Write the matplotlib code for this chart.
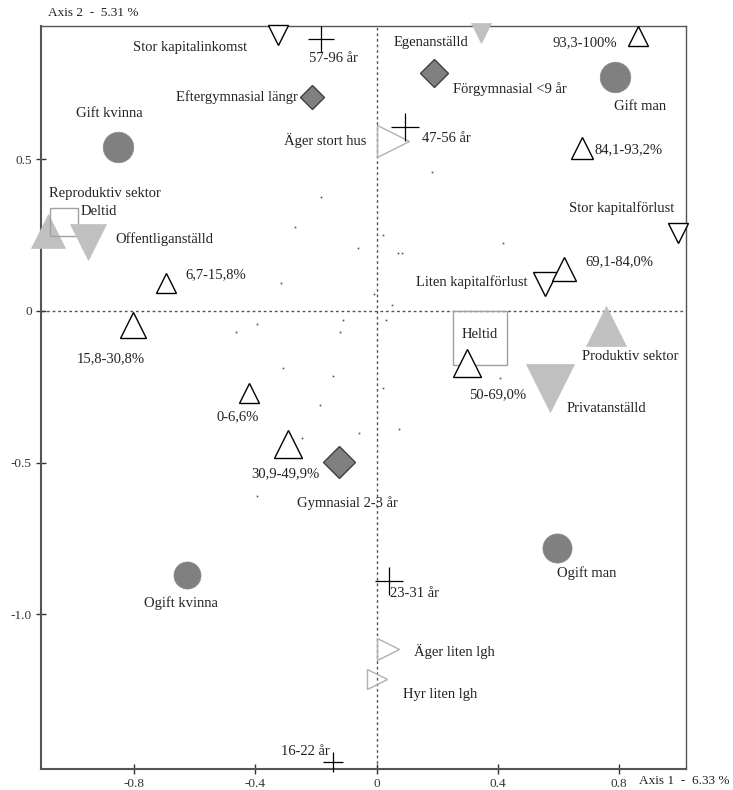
import matplotlib.pyplot as plt

plt.rcParams['font.family'] = ['Liberation Serif', 'DejaVu Serif']

# kategorier och koordinater (axel 1, axel 2)
labels = ['Stor kapitalinkomst', '57-96 år', 'Egenanställd', '93,3-100%',
          'Förgymnasial <9 år', 'Gift man', 'Eftergymnasial längr', 'Gift kvinna',
          'Äger stort hus', '47-56 år', '84,1-93,2%', 'Stor kapitalförlust',
          'Reproduktiv sektor', 'Deltid', 'Offentliganställd', '6,7-15,8%',
          '15,8-30,8%', '0-6,6%', '30,9-49,9%', 'Gymnasial 2-3 år',
          'Liten kapitalförlust', '69,1-84,0%', 'Heltid', '50-69,0%',
          'Produktiv sektor', 'Privatanställd', 'Ogift man', 'Ogift kvinna',
          '23-31 år', 'Äger liten lgh', 'Hyr liten lgh', '16-22 år']
x = [-0.325, -0.184, 0.345, 0.863, 0.190, 0.787, -0.213, -0.853,
     0.054, 0.094, 0.678, 0.995, -1.084, -1.031, -0.952, -0.695,
     -0.804, -0.421, -0.292, -0.124, 0.556, 0.619, 0.342, 0.299,
     0.757, 0.573, 0.596, -0.625, 0.041, 0.038, 0.000, -0.144]
y = [0.910, 0.898, 0.917, 0.906, 0.785, 0.772, 0.706, 0.541,
     0.561, 0.607, 0.538, 0.257, 0.264, 0.294, 0.228, 0.092,
     -0.046, -0.271, -0.439, -0.498, 0.088, 0.139, -0.089, -0.172,
     -0.049, -0.254, -0.782, -0.871, -0.891, -1.116, -1.215, -1.488]
group = ['kapital', 'alder', 'sektor_v', 'inkomst', 'utbildning', 'civil', 'utbildning', 'civil',
         'boende', 'alder', 'inkomst', 'kapital', 'sektor_up', 'tid', 'sektor_v', 'inkomst',
         'inkomst', 'inkomst', 'inkomst', 'utbildning', 'kapital', 'inkomst', 'tid', 'inkomst',
         'sektor_up', 'sektor_v', 'civil', 'civil', 'alder', 'boende', 'boende', 'alder']

# individer (små punkter)
dots_x = [0.183, -0.183, -0.269, -0.061, 0.021, 0.417, 0.071, 0.084, -0.315, -0.008,
          0.051, 0.031, -0.394, -0.111, -0.464, -0.120, -0.309, -0.144, -0.187, -0.246,
          -0.058, 0.408, 0.021, 0.074, -0.394]
dots_y = [0.459, 0.376, 0.277, 0.208, 0.251, 0.224, 0.191, 0.191, 0.092, 0.056,
          0.020, -0.030, -0.043, -0.030, -0.069, -0.069, -0.188, -0.215, -0.310, -0.419,
          -0.403, -0.221, -0.254, -0.389, -0.611]

# markörstorlek och etikettförskjutning (pixlar)
sizes = [14.4, 19, 15, 15, 14.3, 22, 12.2, 22,
         23, 20, 16, 14.4, 24, 20, 26, 15,
         19, 14.4, 20, 16.3, 17, 17, 39, 20,
         29, 34, 21, 19.5, 20, 16, 14, 15]
offsets = [(-88, -12), (13, -20), (-50, -9), (-53, -6), (76, -16), (25, -30), (-75, 0), (-9, 34),
           (-68, 1), (41, -11), (47, -2), (-57, 25), (57, 37), (35, 10), (76, 3), (50, 8),
           (-22, -34), (-11, -24), (-3, -30), (8, -41), (-73, 2), (55, 7), (0, 3), (30, -32),
           (24, -31), (56, -21), (29, -25), (-6, -28), (26, -12), (66, -2), (64, -15), (-28, 11)]

styles = {
    'inkomst': dict(marker='^', mfc='white', mec='black', mew=1.0),
    'kapital': dict(marker='v', mfc='white', mec='black', mew=1.0),
    'sektor_up': dict(marker='^', mfc='#c0c0c0', mec='#c0c0c0', mew=0.5),
    'sektor_v': dict(marker='v', mfc='#c0c0c0', mec='#c0c0c0', mew=0.5),
    'utbildning': dict(marker='D', mfc='#808080', mec='#404040', mew=1.0),
    'civil': dict(marker='o', mfc='#808080', mec='#8a8a8a', mew=0.5),
    'alder': dict(marker='+', mfc='none', mec='black', mew=0.9),
    'tid': dict(marker='s', mfc='none', mec='#a0a0a0', mew=1.0),
    'boende': dict(marker='>', mfc='none', mec='#b0b0b0', mew=1.0),
}

fig = plt.figure(figsize=(7.33, 7.90), dpi=100)
ax = fig.add_axes([0.0555, 0.027, 0.88, 0.94])
ax.set_xlim(-1.108, 1.020)
ax.set_ylim(-1.51, 0.94)

ax.axhline(0, color='#555555', lw=1, ls=(0, (2, 2)), zorder=1)
ax.axvline(0, color='#555555', lw=1, ls=(0, (2, 2)), zorder=1)

ax.plot(dots_x, dots_y, ls='none', marker='s', ms=1.2, mfc='#555555', mec='none', zorder=2)

for i in range(len(labels)):
    ax.plot(x[i], y[i], ls='none', ms=sizes[i], clip_on=False, zorder=3, **styles[group[i]])
    ax.annotate(labels[i], (x[i], y[i]), xytext=offsets[i], textcoords='offset pixels',
                ha='center', va='center', fontsize=10.5, color='#222222', zorder=4)

ax.set_xticks([-0.8, -0.4, 0, 0.4, 0.8])
ax.set_xticklabels(['-0.8', '-0.4', '0', '0.4', '0.8'])
ax.set_yticks([-1.0, -0.5, 0, 0.5])
ax.set_yticklabels(['-1.0', '-0.5', '0', '0.5'])
ax.tick_params(direction='inout', length=7, width=1, colors='#333333', labelsize=9.5, pad=3)

for side in ['left', 'bottom']:
    ax.spines[side].set_color('#555555')
    ax.spines[side].set_linewidth(1.5)
for side in ['top', 'right']:
    ax.spines[side].set_color('#555555')
    ax.spines[side].set_linewidth(1.0)

fig.text(0.065, 0.983, 'Axis 2  -  5.31 %', fontsize=9.5, ha='left', va='center', color='#222222')
fig.text(0.872, 0.011, 'Axis 1  -  6.33 %', fontsize=9.5, ha='left', va='center', color='#222222')

fig.savefig('out.png', dpi=100)
